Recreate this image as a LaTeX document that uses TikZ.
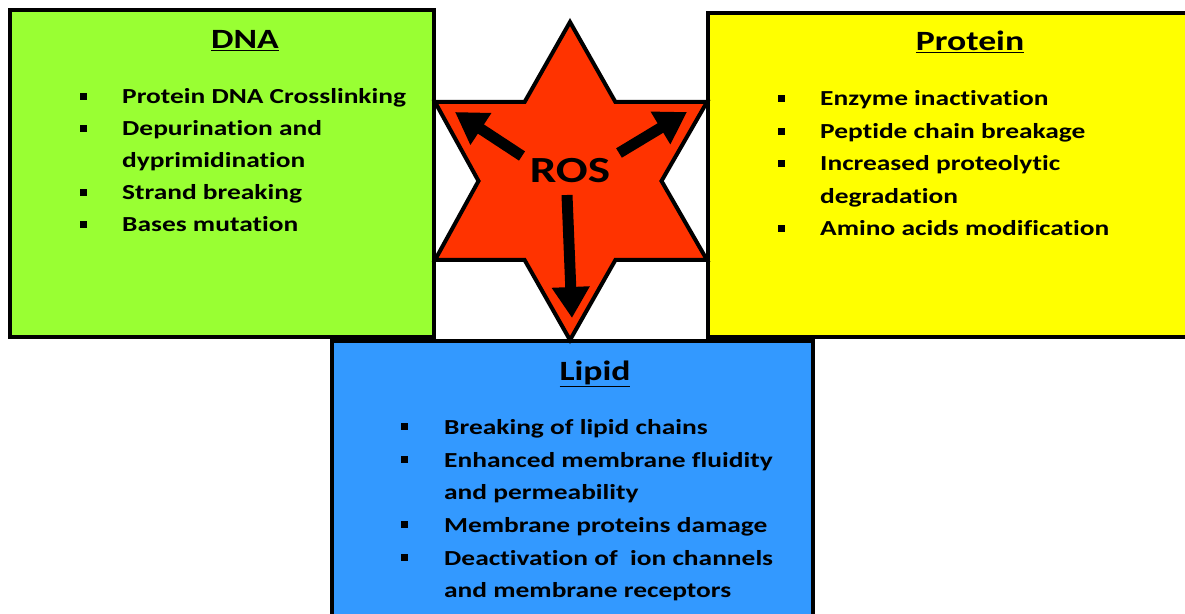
\documentclass[tikz,border=0pt]{standalone}
\usepackage{fontspec}
\setmainfont[FakeStretch=1.28, RawFeature={-liga}]{Carlito}
\usetikzlibrary{arrows.meta}
\definecolor{dnagreen}{HTML}{99FF33}
\definecolor{protyellow}{HTML}{FFFF00}
\definecolor{lipidblue}{HTML}{3399FF}
\definecolor{rosred}{HTML}{FF3300}
\tikzset{
  panel/.style={draw=black, line width=4bp},
  title/.style={font=\fontsize{28}{30}\selectfont\bfseries, anchor=base, inner sep=0},
  item/.style={font=\fontsize{21.5}{32}\selectfont\bfseries, anchor=base west, inner sep=0},
  bul/.style={fill=black, minimum size=7bp, inner sep=0, draw=none},
  rosarrow/.style={line width=11bp, -{Triangle[width=36bp,length=31bp]}},
}
\begin{document}
\begin{tikzpicture}[x=1bp,y=-1bp]
\useasboundingbox (0,0) rectangle (1185,614);
\clip (0,0) rectangle (1185,614);
% boxes
\path[panel, fill=dnagreen] (10,10) rectangle (434,337);
\path[panel, fill=protyellow] (708,13) rectangle (1195,337);
\path[panel, fill=lipidblue] (332,341) rectangle (813,630);
% star
\draw[line width=4bp, fill=rosred, line join=miter]
  (570,22) -- (615.4,102) -- (707,102) -- (661.5,181) -- (707,260) -- (615.4,260)
  -- (570,340) -- (524.6,260) -- (435,260) -- (478.5,181) -- (435,102) -- (524.6,102) -- cycle;
\node[font=\fontsize{37}{40}\selectfont\bfseries, inner sep=0] (ros) at (570,171) {ROS};
\coordinate (tl) at (455,112);
\coordinate (tr) at (687,112);
\coordinate (tb) at (572,318);
\coordinate (sl) at (522,156);
\coordinate (sr) at (619,153);
\coordinate (sb) at (567,195);
\draw[rosarrow] (sl) -- (tl);
\draw[rosarrow] (sr) -- (tr);
\draw[rosarrow] (sb) -- (tb);
% DNA
\node[title] (dnat) at (245,49) {\underline{DNA}};
\foreach \y/\t [count=\i] in {104/Protein DNA Crosslinking, 136/Depurination and, 168/dyprimidination, 200/Strand breaking, 232/Bases mutation}{
  \node[item] (dna\i) at (122,\y) {\t};
}
\foreach \y [count=\i] in {104,136,200,232}{
  \node[bul] (dnab\i) at (83,\y-7.5) {};
}
% Protein
\node[title] (prott) at (970,51) {\underline{Protein}};
\foreach \y/\t [count=\i] in {106/Enzyme inactivation, 139/Peptide chain breakage, 171/Increased proteolytic, 204/degradation, 236/Amino acids modification}{
  \node[item] (prot\i) at (820,\y) {\t};
}
\foreach \y [count=\i] in {106,139,171,236}{
  \node[bul] (protb\i) at (781,\y-7.5) {};
}
% Lipid
\node[title] (lipt) at (595,380) {\underline{Lipid}};
\foreach \y/\t [count=\i] in {434/Breaking of lipid chains, 467/Enhanced membrane fluidity, 499/and permeability, 532/Membrane proteins damage, 565/Deactivation of\ \ ion channels, 597/and membrane receptors}{
  \node[item] (lip\i) at (444,\y) {\t};
}
\foreach \y [count=\i] in {434,467,532,565}{
  \node[bul] (lipb\i) at (404,\y-7.5) {};
}
\end{tikzpicture}
\end{document}
